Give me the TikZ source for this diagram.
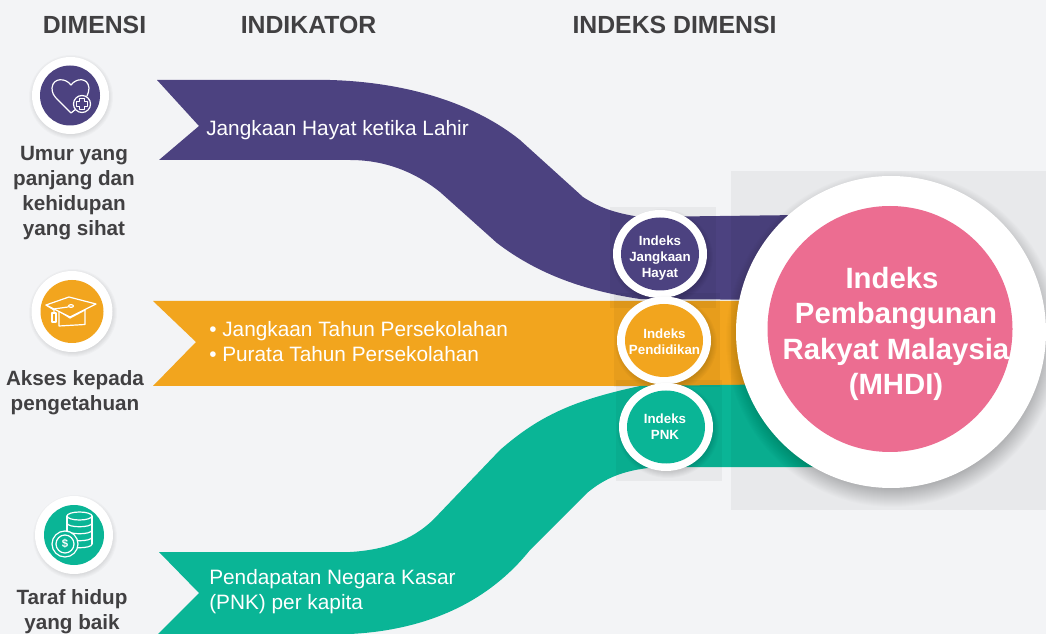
\documentclass[tikz,border=0pt]{standalone}
\usepackage{fontspec}
\setmainfont{Liberation Sans}
\usetikzlibrary{shapes.geometric}
\definecolor{bgc}{HTML}{F3F4F6}
\definecolor{purp}{HTML}{4C4280}
\definecolor{oran}{HTML}{F2A51E}
\definecolor{gree}{HTML}{0AB596}
\definecolor{pink}{HTML}{EC6D91}
\definecolor{ink}{HTML}{414042}
\newcommand{\softshade}[6]{% x y rx ry spread step-opacity
  \foreach \k in {0,...,#5}{\fill[black,opacity=#6] (#1,#2) ellipse [x radius=#3+\k, y radius=#4+\k];}}
\tikzset{
  oval/.style n args={3}{ellipse,inner sep=0pt,outer sep=0pt,fill=#3,minimum width=#1*0.75pt,minimum height=#2*0.75pt},
  head/.style={font=\fontsize{18.6pt}{22pt}\selectfont\bfseries,text=ink},
  dimlabel/.style={font=\fontsize{15.5pt}{18.75pt}\selectfont\bfseries,text=ink,align=center},
  ribtext/.style={font=\fontsize{15.6pt}{18.75pt}\selectfont,text=white,align=left,anchor=west,inner sep=0pt},
  idxtext/.style={font=\fontsize{10pt}{12pt}\selectfont\bfseries,text=white,align=center},
  greybox/.style={fill=black,opacity=0.042},
  iconline/.style={draw=white,line width=0.9pt,line join=round,line cap=round},
}
\begin{document}
\begin{tikzpicture}[x=0.75pt,y=-0.75pt]
\useasboundingbox (0,0) rectangle (1046,634);
\clip (0,0) rectangle (1046,634);
\fill[bgc] (0,0) rectangle (1046,634);
% ribbons
\fill[purp] (157,80) -- (330,80) .. controls (400,82) and (470,100) .. (520,140) -- (583,197)
  .. controls (600,208) and (615,213) .. (640,217) -- (800,215) -- (800,300) -- (640,299)
  .. controls (580,290) and (535,272) .. (497,243) -- (440,192)
  .. controls (415,172) and (385,160) .. (350,160) -- (159,160) -- (199,126) -- cycle;
\fill[oran] (153,301) -- (800,301) -- (800,386) -- (153,386) -- (196,342) -- cycle;
\fill[gree] (159,552) -- (350,552) .. controls (385,550) and (412,540) .. (433,520) -- (500,450)
  .. controls (540,415) and (575,400) .. (640,386) -- (800,384) -- (820,467) -- (660,467)
  .. controls (625,469) and (605,478) .. (587,493) -- (530,550)
  .. controls (490,600) and (430,630) .. (350,634) -- (158,634) -- (199,593) -- cycle;
% grey panels
\fill[greybox] (731,171) rectangle (1046,510);
\fill[greybox] (610,207) rectangle (716,308);
\fill[greybox] (614,293) rectangle (720,387);
\fill[greybox] (616,380) rectangle (722,481);
% headers
\node[head] (hdim) at (94.5,25) {DIMENSI};
\node[head] (hind) at (308.5,25) {INDIKATOR};
\node[head] (hidx) at (674.5,25) {INDEKS DIMENSI};
% ribbon text
\node[ribtext] (r1) at (206,130) {Jangkaan Hayat ketika Lahir};
\node[ribtext] (r2) at (209,341.5) {• Jangkaan Tahun Persekolahan\\• Purata Tahun Persekolahan};
\node[ribtext] (r3) at (209,592) {Pendapatan Negara Kasar\\(PNK) per kapita};
% index circles
\softshade{662}{257}{44}{41}{7}{0.02}
\node[oval={94}{88}{white}] (c1o) at (660,254) {};
\node[oval={78}{73}{purp}] (c1) at (660,254) {};
\node[idxtext] (c1t) at (660,258) {Indeks\\Jangkaan\\Hayat};
\softshade{666}{343.5}{44}{41}{7}{0.02}
\node[oval={94}{88}{white}] (c2o) at (664,340.5) {};
\node[oval={78}{73}{oran}] (c2) at (664,340.5) {};
\node[idxtext] (c2t) at (664.5,342) {Indeks\\Pendidikan};
\softshade{668}{430}{44}{41}{7}{0.02}
\node[oval={94}{88}{white}] (c3o) at (666,427) {};
\node[oval={78}{73}{gree}] (c3) at (666,427) {};
\node[idxtext] (c3t) at (665,427) {Indeks\\PNK};
% main circle
\softshade{893}{339}{145}{146}{22}{0.011}
\node[oval={310}{312}{white}] (mo) at (891,332) {};
\node[oval={245}{246}{pink}] (m) at (890,329) {};
\node[font=\fontsize{22pt}{26.6pt}\selectfont\bfseries,text=white,align=center] (mt) at (896,334)
  {Indeks\hspace*{6pt}\\Pembangunan\\Rakyat Malaysia\\(MHDI)};
% dimension icons: heart
\softshade{71}{97}{35}{35}{7}{0.02}
\node[oval={77}{77}{white}] (i1o) at (70.5,95.5) {};
\node[oval={60}{60}{purp}] (i1) at (70,95.5) {};
\draw[iconline] (71,85) .. controls (66,78) and (53,77) .. (52,88) .. controls (52,93) and (54,96) .. (57,99) -- (71,113) -- (76,109);
\draw[iconline] (71,85) .. controls (76,78) and (88,77) .. (89,88) .. controls (89,91) and (88,94) .. (87,96);
\draw[iconline,fill=purp] (82,104) circle [radius=8.5];
\draw[iconline] (79.5,98.5) -- (84.5,98.5) -- (84.5,101.5) -- (87.5,101.5) -- (87.5,106.5) -- (84.5,106.5) -- (84.5,109.5) -- (79.5,109.5) -- (79.5,106.5) -- (76.5,106.5) -- (76.5,101.5) -- (79.5,101.5) -- cycle;
% cap
\softshade{73}{313}{37}{37}{7}{0.02}
\node[oval={81}{81}{white}] (i2o) at (72,311.5) {};
\node[oval={63}{63}{oran}] (i2) at (72,311.5) {};
\draw[iconline] (59,311) -- (59,326) -- (85,324.5) -- (85,310);
\draw[iconline] (59,311) -- (70,318) -- (85,310);
\draw[iconline,fill=oran] (46,305) -- (69,297) -- (96,304) -- (70,317) -- cycle;
\draw[iconline] (46,305) -- (54,310) -- (54,313);
\draw[iconline] (52,313) rectangle (56,322);
\draw[iconline] (54,309) -- (68,307);
\draw[iconline] (71,306) ellipse [x radius=2.5, y radius=1.3];
% coins
\softshade{75}{537}{35}{35}{7}{0.02}
\node[oval={78}{78}{white}] (i3o) at (74,535) {};
\node[oval={60}{60}{gree}] (i3) at (74,535) {};
\draw[iconline] (67,516) -- (67,544) (92,516) -- (92,544);
\draw[iconline] (67,544) .. controls (67,549) and (92,549) .. (92,544);
\foreach \yy in {523,530,537}{\draw[iconline] (67,\yy) .. controls (67,\yy+5) and (92,\yy+5) .. (92,\yy);}
\draw[iconline] (79.5,516) ellipse [x radius=12.5, y radius=4];
\draw[iconline,fill=gree] (65,544) circle [radius=13];
\draw[iconline] (65,544) circle [radius=9];
\node[font=\fontsize{8.5pt}{9pt}\selectfont\bfseries,text=white,inner sep=0pt] (i3d) at (65,544) {\$};
% dimension labels
\node[dimlabel] (d1) at (74,193) {Umur yang\\panjang dan\\kehidupan\\yang sihat};
\node[dimlabel] (d2) at (75,393) {Akses kepada\\pengetahuan};
\node[dimlabel] (d3) at (72,612) {Taraf hidup\\yang baik};
\end{tikzpicture}
\end{document}
